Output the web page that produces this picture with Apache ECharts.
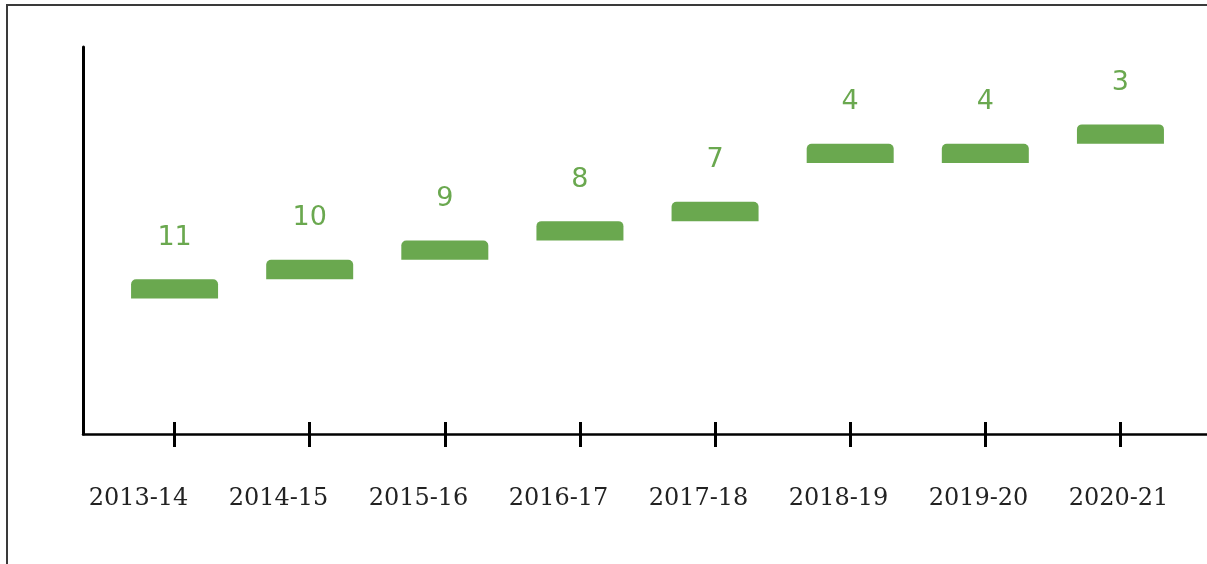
<!DOCTYPE html>
<html>
<head>
<meta charset="utf-8">
<script src="https://cdn.jsdelivr.net/npm/echarts@6/dist/echarts.min.js"></script>
<style>
	html, body { margin: 0; padding: 0; background: #fff; }
	#chart { width: 1207px; height: 564px; }
	#frame {
		position: absolute; left: 6px; top: 4px; right: 0; bottom: 0;
		border-top: 2px solid #3a3a3a; border-left: 2px solid #3a3a3a;
		pointer-events: none;
	}
</style>
</head>
<body>
<div id="chart"></div>
<div id="frame"></div>
<script>
var years = [ '2013-14', '2014-15', '2015-16', '2016-17', '2017-18', '2018-19', '2019-20', '2020-21' ];
var ranks = [ 11, 10, 9, 8, 7, 4, 4, 3 ];
// each marker covers one rank step
var markHeight = [ 1, 1, 1, 1, 1, 1, 1, 1 ];

var green = '#6aa84f';

var chart = echarts.init(document.getElementById('chart'));

function hiddenY(grid) {
	return { gridIndex: grid, type: 'value', min: 0, max: 1, show: false, splitLine: { show: false } };
}

chart.setOption({
	animation: false,
	grid: [
		{ left: 83, right: 0, top: 47, bottom: 130 },    // axis lines
		{ left: 107, right: 19, top: 47, bottom: 130 },  // bars + ticks
		{ left: 68.5, right: 18.5, top: 47, bottom: 130 } // year labels
	],
	xAxis: [ {
		gridIndex: 0,
		type: 'value',
		min: 0,
		max: 1,
		axisLine: { show: true, onZero: false, lineStyle: { color: '#000', width: 2.5 } },
		axisTick: { show: false },
		axisLabel: { show: false },
		splitLine: { show: false }
	}, {
		gridIndex: 1,
		type: 'category',
		data: years,
		position: 'bottom',
		axisLine: { show: false, onZero: false },
		axisTick: { show: true, alignWithLabel: true, length: 13, lineStyle: { color: '#000', width: 3 } },
		axisLabel: { show: false }
	}, {
		gridIndex: 1,
		type: 'category',
		data: years,
		position: 'bottom',
		axisLine: { show: false, onZero: false },
		axisTick: { show: true, inside: true, alignWithLabel: true, length: 12, lineStyle: { color: '#000', width: 3 } },
		axisLabel: { show: false }
	}, {
		gridIndex: 2,
		type: 'category',
		data: years,
		position: 'bottom',
		axisLine: { show: false, onZero: false },
		axisTick: { show: false },
		axisLabel: { margin: 53, fontFamily: 'DejaVu Serif', fontSize: 24, color: '#222' }
	} ],
	yAxis: [ {
		gridIndex: 0,
		type: 'value',
		min: 0,
		max: 1,
		axisLine: { show: true, onZero: false, lineStyle: { color: '#000', width: 3 } },
		axisTick: { show: false },
		axisLabel: { show: false },
		splitLine: { show: false }
	}, {
		gridIndex: 1,
		type: 'value',
		inverse: true,
		min: -1,
		max: 19,
		show: false,
		splitLine: { show: false }
	}, hiddenY(2) ],
	series: [ {
		type: 'bar',
		xAxisIndex: 1,
		yAxisIndex: 1,
		stack: 'rank',
		barWidth: 87,
		silent: true,
		itemStyle: { color: 'transparent' },
		data: ranks
	}, {
		type: 'bar',
		xAxisIndex: 1,
		yAxisIndex: 1,
		stack: 'rank',
		barWidth: 87,
		itemStyle: { color: green, borderRadius: [ 5, 5, 0, 0 ] },
		label: {
			show: true,
			position: 'top',
			distance: 28,
			color: green,
			fontFamily: 'DejaVu Sans',
			fontSize: 27,
			formatter: function(p) {
				return ranks[p.dataIndex];
			}
		},
		data: markHeight
	} ]
});
</script>
</body>
</html>
